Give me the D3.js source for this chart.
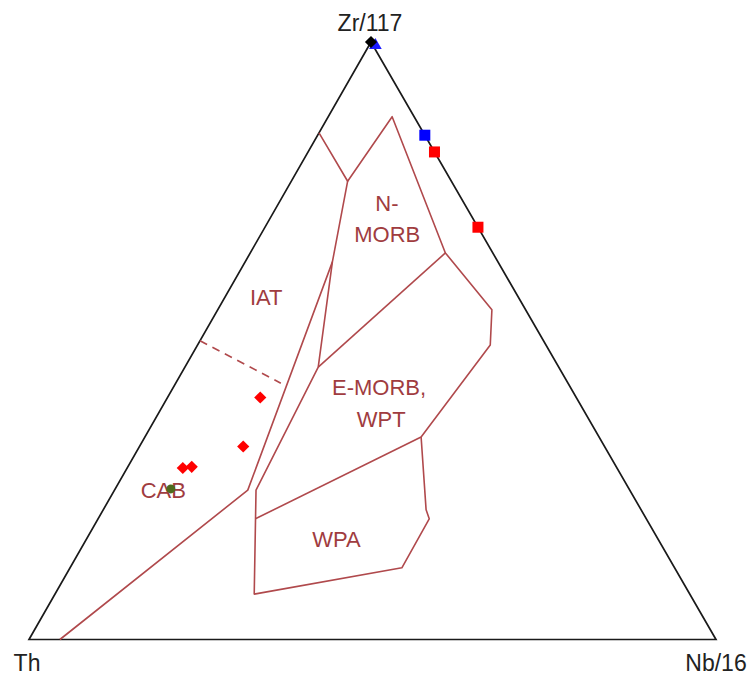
<!DOCTYPE html>
<html>
<head>
<meta charset="utf-8">
<script src="https://cdn.jsdelivr.net/npm/d3@7"></script>
<style>
  html, body { margin: 0; padding: 0; background: #fff; }
  svg { display: block; }
  text { font-family: "Liberation Sans", Arial, sans-serif; }
</style>
</head>
<body>
<svg id="chart" width="748" height="675"></svg>
<script>
// Apex labels of the ternary diagram (Th – Zr/117 – Nb/16)
const apexLabels = ["Th", "Zr/117", "Nb/16"];

// Field boundary vertices, as [Th, Zr/117, Nb/16] percentages
const fieldVertices = {
  a: [15.2, 84.8, 0.0],
  b: [15.1, 76.7, 8.2],
  c: [3.2, 87.5, 9.3],
  d: [6.9, 64.7, 28.4],
  e: [4.9, 55.2, 39.9],
  f: [8.1, 49.3, 42.6],
  g: [25.9, 33.9, 40.2],
  h: [31.3, 21.7, 47.0],
  i: [31.6, 20.2, 48.2],
  j: [39.7, 12.0, 48.3],
  k: [63.4, 7.6, 29.0],
  l: [56.9, 20.2, 22.9],
  m: [54.4, 25.0, 20.6],
  n: [35.0, 45.6, 19.4],
  o: [24.1, 63.2, 12.7],
  p: [55.6, 25.0, 19.4],
  q: [95.5, 0.0, 4.5],
  r: [50.0, 50.0, 0.0],
  s: [41.8, 42.9, 15.3]
};

// Solid boundary polylines (by vertex key) and the dashed IAT/CAB divider
const solidBoundaries = [
  ["a", "b", "c", "d", "e", "f", "g"],
  ["b", "o", "n", "m", "k", "j", "i", "h", "g"],
  ["o", "p", "q"],
  ["d", "n"],
  ["g", "l"]
];
const dashedBoundaries = [["r", "s"]];

// Field names and their anchor compositions [Th, Zr/117, Nb/16]
const fieldNames = ["N-", "MORB", "IAT", "E-MORB,", "WPT", "WPA", "CAB"];
const fieldAnchors = [
  [11.3, 72.9, 15.8],
  [13.8, 67.8, 18.4],
  [36.7, 57.3, 6.0],
  [27.9, 42.1, 30.0],
  [30.2, 36.9, 32.9],
  [46.8, 16.8, 36.4],
  [67.9, 25.0, 7.1]
];

// Samples [Th, Zr/117, Nb/16]
const redSquares = [
  [0.0, 81.6, 18.4],
  [0.0, 69.0, 31.0]
];
const blueSquares = [
  [0.0, 84.4, 15.6]
];
const redDiamonds = [
  [46.0, 40.5, 13.5],
  [52.6, 32.3, 15.1],
  [61.8, 28.9, 9.3],
  [63.2, 28.7, 8.1]
];
const greenDots = [
  [66.7, 25.2, 8.1]
];
const apexBlack = [[0.0, 100.0, 0.0]];
const apexBlue = [[0.0, 99.6, 0.4]];

const svg = d3.select("#chart");

// Triangle frame: Th bottom-left, Zr/117 top, Nb/16 bottom-right
const frame = { left: 29, right: 716, bottom: 639.5, top: 42, apexX: 371 };
const zrScale = d3.scaleLinear().domain([0, 100]).range([frame.bottom, frame.top]);
const nbScale = d3.scaleLinear().domain([0, 100]).range([0, frame.right - frame.left]);
const zrShift = d3.scaleLinear().domain([0, 100]).range([0, frame.apexX - frame.left]);

function project(t) {
  const sum = t[0] + t[1] + t[2];
  const zr = t[1] / sum * 100, nb = t[2] / sum * 100;
  return [frame.left + nbScale(nb) + zrShift(zr), zrScale(zr)];
}

const line = d3.line();
const fieldColor = "#b0494c";
const labelColor = "#a03c40";

// Outer triangle
const corners = [[100, 0, 0], [0, 100, 0], [0, 0, 100], [100, 0, 0]];
svg.append("path")
  .attr("d", line(corners.map(project)) + "Z")
  .attr("fill", "none").attr("stroke", "#1a1a1a").attr("stroke-width", 1.7)
  .attr("stroke-linejoin", "miter");

// Field boundaries
svg.append("g").selectAll("path").data(solidBoundaries).join("path")
  .attr("d", d => line(d.map(k => project(fieldVertices[k]))))
  .attr("fill", "none").attr("stroke", fieldColor).attr("stroke-width", 1.6)
  .attr("stroke-linejoin", "round");

svg.append("g").selectAll("path").data(dashedBoundaries).join("path")
  .attr("d", d => line(d.map(k => project(fieldVertices[k]))))
  .attr("fill", "none").attr("stroke", fieldColor).attr("stroke-width", 1.6)
  .attr("stroke-dasharray", "8,6");

// Field names
svg.append("g").selectAll("text").data(fieldNames).join("text")
  .attr("x", (d, i) => project(fieldAnchors[i])[0])
  .attr("y", (d, i) => project(fieldAnchors[i])[1])
  .attr("text-anchor", "middle").attr("dominant-baseline", "central")
  .attr("font-size", 22).attr("fill", labelColor)
  .text(d => d);

// Apex labels
const apexPos = [
  { p: project([100, 0, 0]), dx: -2, dy: 23 },
  { p: project([0, 100, 0]), dx: -1, dy: -19 },
  { p: project([0, 0, 100]), dx: 0, dy: 23 }
];
svg.append("g").selectAll("text").data(apexLabels).join("text")
  .attr("x", (d, i) => apexPos[i].p[0] + apexPos[i].dx)
  .attr("y", (d, i) => apexPos[i].p[1] + apexPos[i].dy)
  .attr("text-anchor", "middle").attr("dominant-baseline", "central")
  .attr("font-size", 23).attr("fill", "#222")
  .text(d => d);

// Samples
const sym = d3.symbol();
const marks = svg.append("g");

marks.selectAll("path.bt").data(apexBlue).join("path")
  .attr("transform", d => `translate(${project(d)[0] + 3},${project(d)[1] + 1})`)
  .attr("d", sym.type(d3.symbolTriangle).size(70)())
  .attr("fill", "#1a1aff");

marks.selectAll("path.bd").data(apexBlack).join("path")
  .attr("transform", d => `translate(${project(d)[0]},${project(d)[1]})`)
  .attr("d", sym.type(d3.symbolDiamond2).size(95)())
  .attr("fill", "#000");

marks.selectAll("rect.rs").data(redSquares).join("rect")
  .attr("x", d => project(d)[0] - 5.5).attr("y", d => project(d)[1] - 5.5)
  .attr("width", 11).attr("height", 11).attr("fill", "#ff0000");

marks.selectAll("rect.bs").data(blueSquares).join("rect")
  .attr("x", d => project(d)[0] - 5.5).attr("y", d => project(d)[1] - 5.5)
  .attr("width", 11).attr("height", 11).attr("fill", "#0000ff");

marks.selectAll("path.rd").data(redDiamonds).join("path")
  .attr("transform", d => `translate(${project(d)[0]},${project(d)[1]})`)
  .attr("d", sym.type(d3.symbolDiamond2).size(95)())
  .attr("fill", "#ff0000");

marks.selectAll("circle.gd").data(greenDots).join("circle")
  .attr("cx", d => project(d)[0]).attr("cy", d => project(d)[1])
  .attr("r", 4.5).attr("fill", "#4d6b1e");
</script>
</body>
</html>
